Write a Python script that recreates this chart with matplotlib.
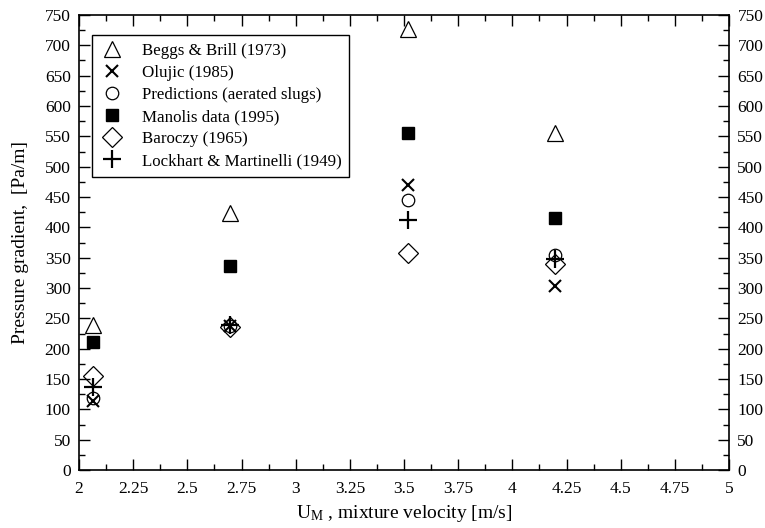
import numpy as np
import matplotlib.pyplot as plt
from matplotlib.ticker import MultipleLocator

plt.rcParams['font.family'] = ['Liberation Serif', 'DejaVu Serif']
plt.rcParams['mathtext.fontset'] = 'custom'
plt.rcParams['mathtext.rm'] = 'Liberation Serif'
plt.rcParams['mathtext.it'] = 'Liberation Serif'

# mixture velocities [m/s]
u_m = [2.065, 2.695, 3.52, 4.195]

# pressure gradients [Pa/m]
beggs_brill = [239, 423, 727, 555]
olujic = [114, 238, 470, 303]
predictions = [118, 238, 445, 355]
manolis = [211, 337, 555, 415]
baroczy = [155, 236, 358, 340]
lockhart = [137, 239, 412, 348]

fig = plt.figure(figsize=(7.65, 5.28), dpi=100)
ax = fig.add_axes([0.1033, 0.1098, 0.8497, 0.8618])

ms = 11
ax.plot(u_m, beggs_brill, linestyle='none', marker='^', ms=ms, mfc='white', mec='black', mew=0.9, label='Beggs & Brill (1973)')
ax.plot(u_m, olujic, linestyle='none', marker='x', ms=8, color='black', mew=1.5, label='Olujic (1985)')
ax.plot(u_m, predictions, linestyle='none', marker='o', ms=9, mfc='none', mec='black', mew=0.9, label='Predictions (aerated slugs)')
ax.plot(u_m, manolis, linestyle='none', marker='s', ms=8.5, color='black', label='Manolis data (1995)')
ax.plot(u_m, baroczy, linestyle='none', marker='D', ms=10, mfc='none', mec='black', mew=0.9, label='Baroczy (1965)')
ax.plot(u_m, lockhart, linestyle='none', marker='+', ms=13, color='black', mew=1.6, label='Lockhart & Martinelli (1949)')

ax.set_xlim(2, 5)
ax.set_ylim(0, 750)
ax.xaxis.set_minor_locator(MultipleLocator(0.125))
ax.yaxis.set_major_locator(MultipleLocator(50))
ax.yaxis.set_minor_locator(MultipleLocator(25))
ax.set_xticks(np.arange(2, 5.01, 0.25))
ax.set_xticklabels(['2', '2.25', '2.5', '2.75', '3', '3.25', '3.5', '3.75', '4',
                    '4.25', '4.5', '4.75', '5'])

ax.tick_params(which='both', direction='in', top=True, right=True,
               labelright=True, labelsize=12.5, width=1)
ax.tick_params(which='major', length=8)
ax.tick_params(axis='y', which='major', pad=6)
ax.tick_params(axis='x', which='major', pad=8)
ax.tick_params(which='minor', length=4)
for s in ax.spines.values():
    s.set_linewidth(1.2)

ax.set_xlabel('U$_\\mathrm{M}$ , mixture velocity [m/s]', fontsize=14, labelpad=4)
ax.set_ylabel('Pressure gradient,  [Pa/m]', fontsize=14, labelpad=11)

leg = ax.legend(loc='upper left', bbox_to_anchor=(0.02, 0.956), fontsize=12.2,
                frameon=True, fancybox=False, edgecolor='black', framealpha=1,
                borderaxespad=0, handletextpad=1.0, labelspacing=0.36,
                borderpad=0.45, handlelength=1.5, numpoints=1)
leg.get_frame().set_linewidth(1.0)

fig.savefig('out.png', dpi=100)
